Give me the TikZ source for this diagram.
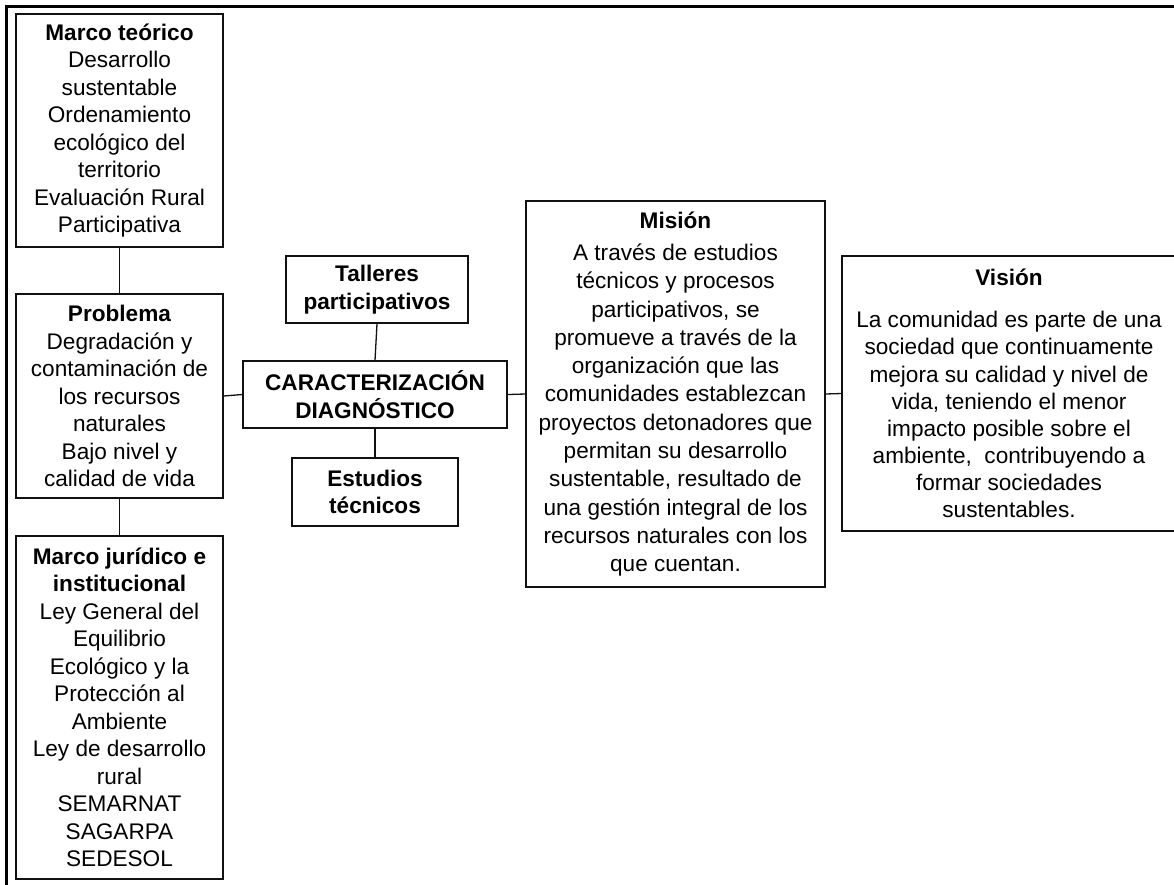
\documentclass[tikz,border=0pt]{standalone}
\usepackage{fontspec}
\setmainfont{Liberation Sans}
\definecolor{ink}{HTML}{111111}
\begin{document}
\begin{tikzpicture}[x=1pt,y=-1pt,
  box/.style={draw=ink,line width=1.3pt,inner sep=0pt,align=center,text=black,
    font=\fontsize{22.6}{27.5}\selectfont},
  link/.style={draw=ink,line width=1.3pt}]
\useasboundingbox (0,0) rectangle (1174,884);
\clip (0,0) rectangle (1174,884);
% page frame
\draw[black,line width=3pt] (6.2,890) -- (6.2,6.2) -- (1180,6.2);

\node[box,minimum width=207,minimum height=233] (teo) at (119.5,130.5)
  {\textbf{Marco teórico}\\Desarrollo\\sustentable\\Ordenamiento\\ecológico del\\territorio\\Evaluación Rural\\Participativa};
\node[box,minimum width=207,minimum height=204] (prob) at (119.5,396)
  {\textbf{Problema}\\Degradación y\\contaminación de\\los recursos\\naturales\\Bajo nivel y\\calidad de vida};
\node[box,minimum width=207,minimum height=343] (jur) at (119.5,707.5)
  {\textbf{Marco jurídico e}\\\textbf{institucional}\\Ley General del\\Equilibrio\\Ecológico y la\\Protección al\\Ambiente\\Ley de desarrollo\\rural\\SEMARNAT\\SAGARPA\\SEDESOL};
\node[box,minimum width=264,minimum height=67] (car) at (375,394.5)
  {\textbf{CARACTERIZACIÓN}\\\textbf{DIAGNÓSTICO}};
\node[box,minimum width=182,minimum height=67] (tal) at (377,289.5)
  {\textbf{Talleres}\\\textbf{participativos}};
\node[box,minimum width=166,minimum height=68] (est) at (375,492)
  {\textbf{Estudios}\\\textbf{técnicos}};
\node[box,minimum width=299,minimum height=386,font=\fontsize{22.6}{28.3}\selectfont] (mis) at (675.5,394)
  {\textbf{Misión}\\[4pt]A través de estudios\\técnicos y procesos\\participativos, se\\promueve a través de la\\organización que las\\comunidades establezcan\\proyectos detonadores que\\permitan su desarrollo\\sustentable, resultado de\\una gestión integral de los\\recursos naturales con los\\que cuentan.};
\node[box,minimum width=334,minimum height=275,font=\fontsize{22.6}{27.1}\selectfont] (vis) at (1009,393.5)
  {\textbf{Visión}\\[15pt]La comunidad es parte de una\\sociedad que continuamente\\mejora su calidad y nivel de\\vida, teniendo el menor\\impacto posible sobre el\\ambiente,\ \ contribuyendo a\\formar sociedades\\sustentables.};

% connectors
\draw[link] (teo.south) -- (prob.north);
\draw[link] (prob.south) -- (jur.north);
\draw[link] (prob.east) -- (car.west);
\draw[link] (tal.south) -- (car.north);
\draw[link] (car.south) -- (est.north);
\draw[link] (car.east) -- (mis.west);
\draw[link] (mis.east) -- (vis.west);
\end{tikzpicture}
\end{document}
